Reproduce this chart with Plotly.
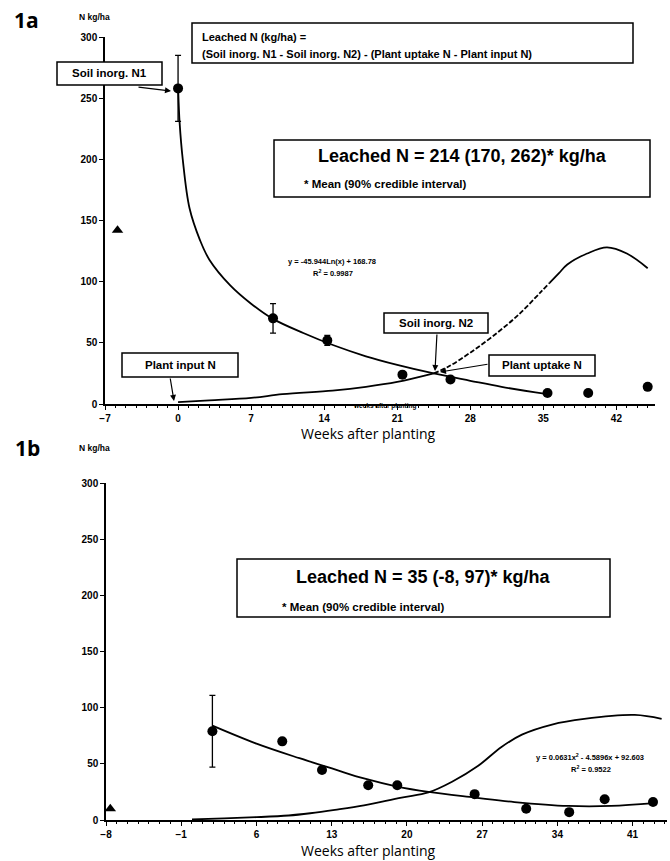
import plotly.graph_objects as go

# ---------------- Panel 1a data ----------------
a_obs_weeks = [0, 9.1, 14.3, 21.5, 26.1, 35.4, 39.3, 45.0]
a_obs_n = [258, 70, 52, 24, 20, 9, 9, 14]
a_obs_err = [27, 12, 4, 0, 0, 0, 0, 0]
a_tri_weeks = [-5.8]
a_tri_n = [142]
a_fit_weeks = [0.02, 0.15, 0.45, 1.1, 2.1, 3.0, 5, 7, 9, 12, 14.9, 18, 21, 24.5, 28, 31, 35.4]
a_fit_n = [255, 230, 200, 160, 134, 118, 97, 82, 70, 58, 48, 39, 32, 25, 19, 14, 8]
a_up_weeks_solid = [0, 3, 7, 10, 14.8, 18, 21, 24.5]
a_up_n_solid = [1.5, 3, 5, 8, 11, 14, 18, 25]
a_up_weeks_dash = [24.5, 26, 28, 30.1, 32.5, 34.7, 35.6]
a_up_n_dash = [25, 31, 42, 55, 72, 91, 99]
a_up_weeks_end = [35.6, 36.5, 37.3, 39.2, 41.1, 43, 45]
a_up_n_end = [99, 107, 114, 123, 128, 123, 111]
a_xticks = [-7, 0, 7, 14, 21, 28, 35, 42]

# ---------------- Panel 1b data ----------------
b_obs_weeks = [1.9, 8.4, 12.1, 16.4, 19.1, 26.3, 31.1, 35.1, 38.4, 42.9]
b_obs_n = [79, 70, 44.5, 31, 31, 23, 10, 7, 18.5, 16]
b_obs_err = [32, 0, 0, 0, 0, 0, 0, 0, 0, 0]
b_tri_weeks = [-7.6]
b_tri_n = [10]
b_fit_weeks = [1.9, 6, 10, 13.3, 16, 19, 22, 26.3, 30, 35, 39, 43]
b_fit_n = [84, 68, 55, 45, 37, 30, 25, 20, 16, 12.5, 12.5, 15]
b_up_weeks = [0, 3, 6, 9, 11, 13.3, 16, 19.5, 22, 24.2, 26.6, 28.8, 30.7, 33.5, 36.5, 41.2, 43.7]
b_up_n = [0.5, 1.5, 2.5, 4, 6, 9, 13, 20, 24.5, 34, 48, 65, 76, 85, 90, 93.5, 90]
b_xticks = [-8, -1, 6, 13, 20, 27, 34, 41]

y_ticks = [0, 50, 100, 150, 200, 250, 300]

W, H = 670, 861
ARIAL = "Liberation Sans, Arial, sans-serif"
MYRIAD = "Open Sans, Noto Sans, sans-serif"


def px(x):
    return x / W


def py(y):
    return 1 - y / H


fig = go.Figure()

line_style = dict(color="black", width=1.8)

# ---- 1a traces
fig.add_trace(go.Scatter(x=a_fit_weeks, y=a_fit_n, mode="lines", line=dict(shape="spline", **line_style),
                         xaxis="x", yaxis="y", showlegend=False, cliponaxis=False))
fig.add_trace(go.Scatter(x=a_up_weeks_solid, y=a_up_n_solid, mode="lines", line=dict(shape="spline", **line_style),
                         xaxis="x", yaxis="y", showlegend=False))
fig.add_trace(go.Scatter(x=a_up_weeks_dash, y=a_up_n_dash, mode="lines",
                         line=dict(shape="spline", dash="5px,2px", color="black", width=1.8),
                         xaxis="x", yaxis="y", showlegend=False))
fig.add_trace(go.Scatter(x=a_up_weeks_end, y=a_up_n_end, mode="lines", line=dict(shape="spline", **line_style),
                         xaxis="x", yaxis="y", showlegend=False))
fig.add_trace(go.Scatter(x=a_obs_weeks, y=a_obs_n, mode="markers",
                         marker=dict(symbol="circle", size=10, color="black"),
                         error_y=dict(type="data", array=a_obs_err, color="black", thickness=1.3, width=3),
                         xaxis="x", yaxis="y", showlegend=False, cliponaxis=False))
fig.add_trace(go.Scatter(x=a_tri_weeks, y=a_tri_n, mode="markers",
                         marker=dict(symbol="triangle-up", size=10, color="black"),
                         xaxis="x", yaxis="y", showlegend=False))

# ---- 1b traces
fig.add_trace(go.Scatter(x=b_fit_weeks, y=b_fit_n, mode="lines", line=dict(shape="spline", **line_style),
                         xaxis="x2", yaxis="y2", showlegend=False))
fig.add_trace(go.Scatter(x=b_up_weeks, y=b_up_n, mode="lines", line=dict(shape="spline", **line_style),
                         xaxis="x2", yaxis="y2", showlegend=False))
fig.add_trace(go.Scatter(x=b_obs_weeks, y=b_obs_n, mode="markers",
                         marker=dict(symbol="circle", size=10, color="black"),
                         error_y=dict(type="data", array=b_obs_err, color="black", thickness=1.3, width=3),
                         xaxis="x2", yaxis="y2", showlegend=False, cliponaxis=False))
fig.add_trace(go.Scatter(x=b_tri_weeks, y=b_tri_n, mode="markers",
                         marker=dict(symbol="triangle-up", size=10, color="black"),
                         xaxis="x2", yaxis="y2", showlegend=False, cliponaxis=False))

tickfont = dict(family=ARIAL, size=10, color="black", weight="bold")
xcommon = dict(showline=True, linecolor="black", linewidth=1.5, ticks="outside", ticklen=4,
               tickcolor="black", tickwidth=1.2, showgrid=False, zeroline=False, tickfont=tickfont,
               automargin=False,
               minor=dict(dtick=1, ticks="outside", ticklen=2, tickcolor="black", tickwidth=1))
ycommon = dict(showline=True, linecolor="black", linewidth=1.5, ticks="outside", ticklen=4,
               tickcolor="black", tickwidth=1.2, showgrid=False, zeroline=False, tickfont=tickfont,
               automargin=False, range=[0, 300], tickvals=y_ticks)

fig.update_layout(
    width=W, height=H,
    margin=dict(l=0, r=0, t=0, b=0, pad=0),
    paper_bgcolor="white", plot_bgcolor="white",
    font=dict(family=ARIAL, color="black"),
    xaxis=dict(domain=[px(105), px(655)], range=[-7, 45.7], tickvals=a_xticks, anchor="y", **xcommon),
    yaxis=dict(domain=[py(404), py(37)], anchor="x", **ycommon),
    xaxis2=dict(domain=[px(106), px(667)], range=[-8, 44.2], tickvals=b_xticks, anchor="y2", **xcommon),
    yaxis2=dict(domain=[py(820), py(483)], anchor="x2", **ycommon),
)

shapes = []
annots = []


def box(x0, y0, x1, y1, lw=1.5):
    shapes.append(dict(type="rect", xref="paper", yref="paper", x0=px(x0), x1=px(x1), y0=py(y1), y1=py(y0),
                       line=dict(color="black", width=lw), fillcolor="white", layer="above"))


def text(x, y, s, size, family=ARIAL, bold=True, xanchor="center", align="center"):
    annots.append(dict(xref="paper", yref="paper", x=px(x), y=py(y), text=("<b>%s</b>" % s) if bold else s,
                       showarrow=False, xanchor=xanchor, yanchor="middle", align=align,
                       font=dict(family=family, size=size, color="black")))


def arrow(tx, ty, hx, hy):
    annots.append(dict(xref="paper", yref="paper", x=px(hx), y=py(hy), ax=tx - hx, ay=ty - hy,
                       axref="pixel", ayref="pixel", text="", showarrow=True, arrowhead=2, arrowsize=1,
                       arrowwidth=1.2, arrowcolor="black"))


# Panel labels
text(26, 20, "1a", 21, family=MYRIAD)
text(27, 448, "1b", 21, family=MYRIAD)
text(94, 17, "N kg/ha", 8.5)
text(94, 448, "N kg/ha", 8.5)
text(368, 433, "Weeks after planting", 14, family=MYRIAD, bold=False)
text(368, 850, "Weeks after planting", 14, family=MYRIAD, bold=False)
text(385, 406, "weeks after planting", 6.5)

# 1a boxes
box(192, 23, 633, 63)
text(200, 37, "Leached N (kg/ha) =", 11, xanchor="left", align="left")
text(200, 54, "(Soil inorg. N1 - Soil inorg. N2) - (Plant uptake N - Plant input N)", 11,
     xanchor="left", align="left")

box(274, 140, 650, 197)
text(462, 156, "Leached N = 214 (170, 262)* kg/ha", 18)
text(302, 184, "* Mean (90% credible interval)", 11.5, xanchor="left", align="left")

box(57, 62, 162, 85)
text(109.5, 73.5, "Soil inorg. N1", 11.5)
arrow(137, 87, 171, 91)

box(122, 353, 238, 377)
text(180, 365, "Plant input N", 11.5)
arrow(170, 377, 174, 401)

box(384, 313, 488, 333)
text(436, 323, "Soil inorg. N2", 11.5)
arrow(437, 333, 435, 371)

box(489, 355, 595, 376)
text(542, 365.5, "Plant uptake N", 11.5)
arrow(489, 364, 440, 372)

text(332, 262, "y = -45.944Ln(x) + 168.78", 7.5)
text(333, 273, "R<sup>2</sup> = 0.9987", 7.5)

# 1b boxes
box(237, 559, 610, 617)
text(423, 577, "Leached N = 35 (-8, 97)* kg/ha", 18)
text(280, 607, "* Mean (90% credible interval)", 11.5, xanchor="left", align="left")

text(590, 757, "y = 0.0631x<sup>2</sup> - 4.5896x + 92.603", 7.5)
text(591, 769, "R<sup>2</sup> = 0.9522", 7.5)

fig.update_layout(shapes=shapes, annotations=annots)

fig.write_html("out.html", config={"displayModeBar": False},
               post_script="document.body.style.margin='0';document.body.style.overflow='hidden';")
